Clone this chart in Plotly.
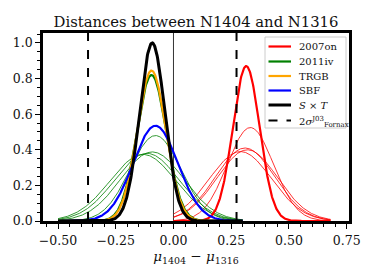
import numpy as np
import plotly.graph_objects as go

# ---- data ----
# combined / method curves: centre, sigma, peak height
series_names = ["2007on", "2011iv", "TRGB", "SBF", "S × T"]
series_mu    = [0.315, -0.095, -0.095, -0.078, -0.092]
series_sigma = [0.058, 0.064, 0.062, 0.097, 0.055]
series_peak  = [0.87, 0.82, 0.845, 0.535, 1.00]

# individual measurements (thin lines)
red_mu    = [0.29, 0.31, 0.32, 0.333]
red_sigma = [0.135, 0.128, 0.131, 0.100]
red_peak  = [0.39, 0.41, 0.40, 0.525]

green_mu    = [-0.078, -0.092, -0.115, -0.132]
green_sigma = [0.110, 0.137, 0.140, 0.142]
green_peak  = [0.48, 0.388, 0.38, 0.374]

# curve grids
left_grid = (-0.50, 0.30)
right_grid = (0.0, 0.68)

# reference lines
fornax_2sigma = [-0.37, 0.273]
zero_line = [0.0]

x_ticks = [-0.50, -0.25, 0.00, 0.25, 0.50, 0.75]
y_ticks = [0.0, 0.2, 0.4, 0.6, 0.8, 1.0]
x_range = [-0.565, 0.76]
y_range = [0.0, 1.056]

legend_labels = ["2007on", "2011iv", "TRGB", "SBF", "<i>S</i> × <i>T</i>",
                 "2<i>σ</i><sup>J03</sup><sub>Fornax</sub>"]


def gauss(grid, mu, sigma, peak):
    x = np.linspace(grid[0], grid[1], 400)
    return x, peak * np.exp(-0.5 * ((x - mu) / sigma) ** 2)


FONT = "DejaVu Serif"
TXT = "#111111"
colors = ["#ff0000", "#008000", "#ffa500", "#0000ff", "#000000"]
widths = [2.2, 2.2, 2.2, 2.2, 3.0]

fig = go.Figure()

# thin zero line
fig.add_trace(go.Scatter(x=[zero_line[0], zero_line[0]], y=y_range, mode="lines",
                         line=dict(color="black", width=0.8), showlegend=False, hoverinfo="skip"))

for mu, s, p in zip(red_mu, red_sigma, red_peak):
    x, y = gauss(right_grid, mu, s, p)
    fig.add_trace(go.Scatter(x=x, y=y, mode="lines", line=dict(color="#ff0000", width=0.8),
                             showlegend=False, hoverinfo="skip"))
for mu, s, p in zip(green_mu, green_sigma, green_peak):
    x, y = gauss(left_grid, mu, s, p)
    fig.add_trace(go.Scatter(x=x, y=y, mode="lines", line=dict(color="#008000", width=0.8),
                             showlegend=False, hoverinfo="skip"))

for i, name in enumerate(series_names):
    grid = right_grid if i == 0 else left_grid
    x, y = gauss(grid, series_mu[i], series_sigma[i], series_peak[i])
    fig.add_trace(go.Scatter(x=x, y=y, mode="lines", name=name,
                             line=dict(color=colors[i], width=widths[i]), showlegend=False))

for xv in fornax_2sigma:
    fig.add_trace(go.Scatter(x=[xv, xv], y=y_range, mode="lines",
                             line=dict(color="black", width=2, dash="dash"), showlegend=False))

axis_common = dict(showline=True, mirror=True, linecolor="black", linewidth=2.5,
                   ticks="outside", ticklen=5, tickwidth=1.2, tickcolor="black",
                   showgrid=False, zeroline=False, automargin=False,
                   tickfont=dict(family=FONT, size=12.5, color=TXT))

fig.update_xaxes(range=x_range, tickvals=x_ticks,
                 ticktext=[f"{v:.2f}".replace("-", "−") for v in x_ticks],
                 ticklabelstandoff=1,
                 minor=dict(dtick=0.05, tick0=0, ticklen=3, ticks="outside", tickcolor="black", tickwidth=1),
                 title=dict(text="<i>μ</i><sub>1404</sub> − <i>μ</i><sub>1316</sub>",
                            font=dict(family=FONT, size=13.5, color=TXT), standoff=4),
                 **axis_common)
fig.update_yaxes(range=y_range, tickvals=y_ticks,
                 ticktext=[f"{v:.1f}" for v in y_ticks],
                 minor=dict(dtick=0.05, tick0=0, ticklen=3, ticks="outside", tickcolor="black", tickwidth=1),
                 **axis_common)

# page has an 8px body margin: work in page pixels, shift into figure pixels
OFF = 8
W, H = 374 - OFF, 280 - OFF
PL, PR, PT, PB = 43, 349, 33, 221   # plot area in page pixels


def px_x(px):
    return (px - PL) / (PR - PL)


def px_y(py):
    return (PB - py) / (PB - PT)


shapes = [dict(type="rect", xref="paper", yref="paper", layer="above",
               x0=px_x(265), x1=px_x(346), y0=px_y(128), y1=px_y(37),
               fillcolor="rgba(255,255,255,0.85)", line=dict(color="#cccccc", width=1))]
annotations = []
row_py = [46.5, 61.5, 76, 90.5, 105, 120.5]
leg_colors = colors + ["#000000"]
leg_widths = [2.2, 2.2, 2.2, 2.2, 3.0, 2.0]
for k, lab in enumerate(legend_labels):
    yy = px_y(row_py[k])
    shapes.append(dict(type="line", xref="paper", yref="paper", layer="above",
                       x0=px_x(268.5), x1=px_x(291), y0=yy, y1=yy,
                       line=dict(color=leg_colors[k], width=leg_widths[k],
                                 dash="dash" if k == 5 else "solid")))
    annotations.append(dict(xref="paper", yref="paper", x=px_x(297), y=yy - (0.008 if k == 5 else 0),
                            text=lab, showarrow=False, xanchor="left", yanchor="middle",
                            font=dict(family=FONT, size=10, color=TXT)))

fig.update_layout(
    width=W, height=H,
    margin=dict(l=PL - OFF, r=W - (PR - OFF), t=PT - OFF, b=H - (PB - OFF)),
    paper_bgcolor="white", plot_bgcolor="white",
    title=dict(text="Distances between N1404 and N1316", xref="paper", x=0.5, xanchor="center",
               y=1 - (21.5 - OFF) / H, yanchor="middle", font=dict(family=FONT, size=14.8, color=TXT)),
    shapes=shapes, annotations=annotations,
    showlegend=False,
)

fig.write_html("out.html")
